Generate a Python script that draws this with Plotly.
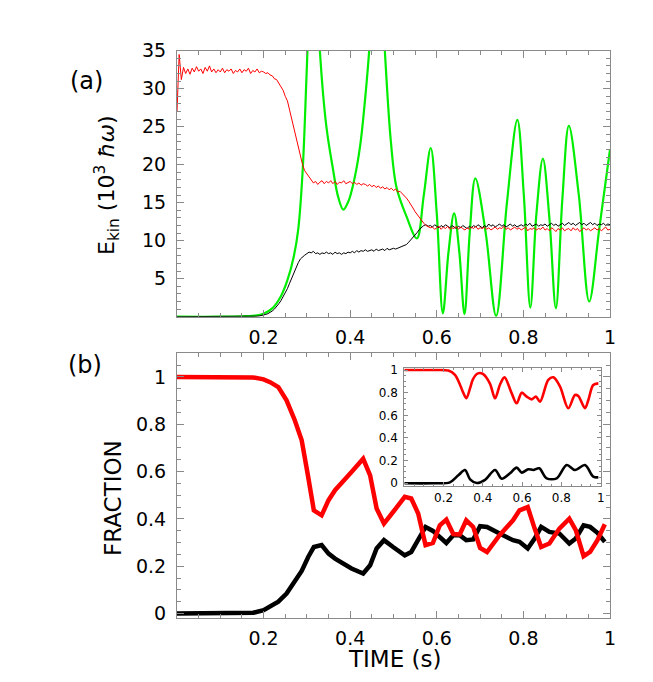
import plotly.graph_objects as go

W, H = 653, 682

# ---------------- Panel (a): kinetic energies (10^3 hbar omega) ----------------
T_KIN = [round(i * 0.005, 3) for i in range(201)]

EKIN_RED = [
    27.0, 34.5, 31.2, 32.8, 32.0, 32.6, 31.9, 32.7, 32.2, 32.9,
    32.3, 32.6, 32.0, 32.8, 32.3, 33.0, 32.2, 32.6, 32.1, 32.5,
    32.2, 32.7, 32.1, 32.5, 32.3, 32.6, 32.0, 32.4, 32.2, 32.6,
    32.1, 32.5, 32.3, 32.7, 32.0, 32.4, 32.2, 32.6, 32.1, 32.3,
    32.2, 32.0, 32.1, 31.8, 31.7, 31.3, 31.2, 30.7, 30.3, 29.8,
    29.0, 28.4, 27.2, 26.0, 24.8, 23.5, 22.2, 21.0, 20.0, 19.2,
    18.8, 18.3, 18.0, 17.6, 17.8, 17.4, 17.7, 17.9, 17.5, 17.8,
    17.6, 17.9, 17.5, 17.8, 17.4, 17.7, 17.6, 17.9, 17.5, 17.7,
    17.8, 17.5, 17.7, 17.4, 17.6, 17.3, 17.5, 17.4, 17.2, 17.4,
    17.1, 17.3, 17.0, 17.2, 16.9, 17.1, 16.8, 17.0, 16.7, 16.9,
    16.6, 16.8, 16.4, 16.5, 16.2, 16.0, 15.6, 15.2, 14.8, 14.3,
    13.8, 13.4, 13.0, 12.6, 12.3, 12.0, 11.9, 11.7, 11.8, 11.5,
    11.7, 11.9, 11.5, 11.8, 11.6, 11.9, 11.5, 11.7, 11.6, 11.9,
    11.5, 11.8, 11.6, 11.4, 11.7, 11.5, 11.8, 11.6, 11.9, 11.5,
    11.7, 11.6, 11.8, 11.5, 11.7, 11.4, 11.6, 11.8, 11.5, 11.7,
    11.6, 11.9, 11.5, 11.7, 11.4, 11.6, 11.8, 11.5, 11.7, 11.4,
    11.6, 11.8, 11.3, 11.6, 11.5, 11.7, 11.4, 11.6, 11.5, 11.8,
    11.4, 11.6, 11.3, 11.7, 11.5, 11.2, 11.6, 11.4, 11.7, 11.3,
    11.5, 11.6, 11.3, 11.7, 11.4, 11.6, 11.2, 11.5, 11.7, 11.4,
    11.6, 11.3, 11.5, 11.7, 11.4, 11.6, 11.3, 11.5, 11.8, 11.4,
    11.5,
]

EKIN_BLACK = [
    0.0, 0.0, 0.0, 0.0, 0.0, 0.0, 0.0, 0.0, 0.0, 0.0,
    0.0, 0.0, 0.0, 0.0, 0.0, 0.0, 0.0, 0.0, 0.0, 0.0,
    0.0, 0.0, 0.0, 0.0, 0.0, 0.0, 0.0, 0.0, 0.0, 0.0,
    0.0, 0.0, 0.0, 0.0, 0.02, 0.03, 0.05, 0.07, 0.1, 0.15,
    0.2, 0.3, 0.4, 0.55, 0.75, 1.0, 1.3, 1.7, 2.1, 2.6,
    3.1, 3.7, 4.4, 5.1, 5.8, 6.5, 7.1, 7.6, 7.9, 8.1,
    8.3, 8.5, 8.4, 8.6, 8.3, 8.4, 8.2, 8.4, 8.3, 8.5,
    8.3, 8.4, 8.2, 8.5, 8.3, 8.4, 8.2, 8.4, 8.3, 8.5,
    8.4, 8.6, 8.4, 8.7, 8.5, 8.7, 8.6, 8.8, 8.6, 8.7,
    8.8, 8.6, 8.9, 8.7, 8.8, 8.9, 8.7, 9.0, 8.8, 8.9,
    9.0, 8.9, 9.0, 9.1, 9.2, 9.3, 9.5, 9.8, 10.1, 10.4,
    10.7, 11.1, 11.5, 11.8, 12.0, 12.1, 11.9, 12.0, 11.8, 12.1,
    11.9, 11.7, 12.0, 11.8, 12.1, 11.9, 11.7, 12.0, 11.8, 11.6,
    11.9, 11.7, 12.0, 11.8, 11.6, 11.9, 11.7, 12.0, 11.8, 12.1,
    11.9, 11.7, 12.0, 11.8, 12.2, 11.9, 12.1, 11.8, 12.0, 12.2,
    11.9, 12.1, 11.8, 12.0, 12.2, 11.9, 12.1, 11.8, 12.0, 12.1,
    11.9, 12.2, 12.0, 12.3, 11.9, 12.1, 12.2, 11.9, 12.1, 12.0,
    12.2, 11.9, 12.1, 12.3, 12.0, 12.2, 11.9, 12.1, 12.3, 12.0,
    12.2, 12.4, 12.1, 12.3, 12.0, 12.2, 12.4, 12.1, 12.3, 12.0,
    12.2, 12.4, 12.1, 12.3, 12.0, 12.2, 12.1, 12.3, 12.0, 12.2,
    12.1,
]

T_GREEN = [0.0, 0.10, 0.15, 0.18, 0.20, 0.22, 0.24, 0.255, 0.27, 0.28,
           0.29, 0.30, 0.315, 0.33, 0.345, 0.36, 0.372, 0.384, 0.396, 0.41,
           0.423, 0.435, 0.445, 0.462, 0.48, 0.494, 0.507, 0.53, 0.554, 0.57,
           0.586, 0.60, 0.614, 0.627, 0.640, 0.652, 0.664, 0.676, 0.689, 0.713,
           0.737, 0.762, 0.786, 0.801, 0.816, 0.830, 0.845, 0.860, 0.875, 0.890,
           0.905, 0.928, 0.952, 0.975, 1.0]
EKIN_GREEN = [0.0, 0.0, 0.05, 0.15, 0.4, 1.1, 2.7, 4.8, 8.0, 11.5,
              19.0, 33.0, 55.0, 35.0, 25.0, 19.5, 15.8, 14.1, 15.2, 18.2,
              22.5, 29.0, 36.0, 55.0, 35.0, 23.0, 17.0, 13.2, 10.3, 16.0,
              22.2, 13.5, 0.45, 8.5, 13.6, 8.5, 0.35, 11.0, 18.2, 11.0,
              0.1, 15.0, 25.9, 16.0, 1.2, 13.5, 20.8, 13.0, 1.1, 15.5,
              25.1, 16.0, 2.0, 11.5, 22.0]

KIN_YTICKS = [5, 10, 15, 20, 25, 30, 35]
TIME_TICKS = [0.2, 0.4, 0.6, 0.8, 1.0]
TIME_LABELS = ["0.2", "0.4", "0.6", "0.8", "1"]

# ---------------- Panel (b): fractions ----------------
T_FRAC = [0.0, 0.05, 0.10, 0.15, 0.176, 0.2, 0.215, 0.234, 0.253, 0.272,
          0.288, 0.303, 0.316, 0.334, 0.35, 0.365, 0.384, 0.403, 0.430, 0.446,
          0.461, 0.478, 0.499, 0.526, 0.541, 0.557, 0.574, 0.591, 0.607, 0.622,
          0.638, 0.653, 0.668, 0.684, 0.700, 0.716, 0.745, 0.776, 0.791, 0.810,
          0.826, 0.841, 0.860, 0.883, 0.906, 0.921, 0.939, 0.954, 0.971, 0.988]
FRAC_RED = [1.0, 1.0, 1.0, 1.0, 0.998, 0.99, 0.978, 0.957, 0.901, 0.817,
            0.732, 0.577, 0.436, 0.415, 0.479, 0.521, 0.563, 0.598, 0.654, 0.584,
            0.444, 0.380, 0.429, 0.493, 0.486, 0.423, 0.289, 0.298, 0.373, 0.397,
            0.336, 0.334, 0.394, 0.366, 0.277, 0.260, 0.331, 0.394, 0.436, 0.450,
            0.359, 0.281, 0.296, 0.359, 0.401, 0.352, 0.242, 0.260, 0.310, 0.377]
FRAC_BLACK = [0.0, 0.0, 0.0, 0.0, 0.003, 0.014, 0.03, 0.05, 0.084, 0.135,
              0.18, 0.239, 0.281, 0.289, 0.253, 0.232, 0.212, 0.19, 0.169, 0.204,
              0.275, 0.310, 0.281, 0.246, 0.260, 0.310, 0.366, 0.349, 0.324, 0.298,
              0.331, 0.331, 0.310, 0.313, 0.369, 0.366, 0.338, 0.310, 0.303, 0.275,
              0.317, 0.366, 0.345, 0.338, 0.296, 0.317, 0.373, 0.366, 0.341, 0.303]

FRAC_TICKS = [0, 0.2, 0.4, 0.6, 0.8, 1.0]
FRAC_LABELS = ["0", "0.2", "0.4", "0.6", "0.8", "1"]

# ---------------- Inset ----------------
T_INS_RED = [0.0, 0.15, 0.224, 0.258, 0.284, 0.30, 0.316, 0.335, 0.35, 0.375,
             0.40, 0.436, 0.462, 0.487, 0.51, 0.547, 0.572, 0.598, 0.623, 0.649,
             0.670, 0.691, 0.733, 0.759, 0.793, 0.835, 0.869, 0.886, 0.920, 0.937,
             0.962, 0.988]
INS_RED = [1.0, 1.0, 0.995, 0.956, 0.868, 0.80, 0.75, 0.84, 0.92, 0.97,
           0.965, 0.88, 0.75, 0.87, 0.935, 0.794, 0.706, 0.80, 0.765, 0.741,
           0.765, 0.72, 0.912, 0.935, 0.853, 0.662, 0.779, 0.77, 0.662, 0.735,
           0.868, 0.882]
T_INS_BLACK = [0.0, 0.15, 0.232, 0.275, 0.309, 0.335, 0.369, 0.411, 0.462, 0.496,
               0.538, 0.572, 0.598, 0.631, 0.657, 0.687, 0.725, 0.776, 0.827, 0.869,
               0.920, 0.962, 0.988]
INS_BLACK = [0.0, 0.0, 0.008, 0.07, 0.117, 0.035, 0.002, 0.03, 0.117, 0.04,
             0.088, 0.138, 0.094, 0.124, 0.117, 0.132, 0.044, 0.044, 0.161, 0.117,
             0.161, 0.059, 0.053]

FONT = "DejaVu Sans"
AXIS_GRAY = "#8a8a8a"


def pxx(p):
    return p / W


def pxy(p):
    return 1 - p / H


fig = go.Figure()

fig.add_trace(go.Scatter(x=T_GREEN, y=EKIN_GREEN, mode="lines", line=dict(color="#00ee00", width=2.2, shape="spline", smoothing=1.0), xaxis="x", yaxis="y"))
fig.add_trace(go.Scatter(x=T_KIN, y=EKIN_BLACK, mode="lines", line=dict(color="black", width=1), xaxis="x", yaxis="y"))
fig.add_trace(go.Scatter(x=T_KIN, y=EKIN_RED, mode="lines", line=dict(color="#ff0000", width=1), xaxis="x", yaxis="y"))

fig.add_trace(go.Scatter(x=T_FRAC, y=FRAC_BLACK, mode="lines", line=dict(color="black", width=4.5), xaxis="x2", yaxis="y2"))
fig.add_trace(go.Scatter(x=T_FRAC, y=FRAC_RED, mode="lines", line=dict(color="#ff0000", width=4.5), xaxis="x2", yaxis="y2"))

fig.add_trace(go.Scatter(x=T_INS_BLACK, y=INS_BLACK, mode="lines", line=dict(color="black", width=2.6, shape="spline", smoothing=0.9), xaxis="x3", yaxis="y3"))
fig.add_trace(go.Scatter(x=T_INS_RED, y=INS_RED, mode="lines", line=dict(color="#ff0000", width=2.6, shape="spline", smoothing=0.9), xaxis="x3", yaxis="y3"))


def axis(domain, rng, tickvals, ticktext, minor_dtick, anchor, size=19, ticklen=7, mlen=4, standoff=6):
    return dict(
        domain=domain, range=rng, anchor=anchor, automargin=False,
        tickmode="array", tickvals=tickvals, ticktext=ticktext,
        ticks="inside", ticklen=ticklen, tickwidth=1, tickcolor=AXIS_GRAY,
        showline=True, linecolor=AXIS_GRAY, linewidth=1, mirror="allticks",
        showgrid=False, zeroline=False,
        tickfont=dict(family=FONT, size=size, color="black"),
        ticklabelstandoff=standoff,
        minor=dict(tickmode="linear", tick0=0, dtick=minor_dtick, ticks="inside",
                   ticklen=mlen, tickcolor=AXIS_GRAY, tickwidth=1, showgrid=False),
    )


XD = [pxx(177), pxx(610)]
fig.update_layout(
    template="none",
    width=W, height=H,
    margin=dict(l=0, r=0, t=0, b=0, autoexpand=False),
    paper_bgcolor="white", plot_bgcolor="white",
    showlegend=False,
    xaxis=axis(XD, [0, 1], TIME_TICKS, TIME_LABELS, 0.05, "y", standoff=3),
    yaxis=axis([pxy(316.7), pxy(50.7)], [0, 35], KIN_YTICKS, [str(v) for v in KIN_YTICKS], 1, "x", standoff=6),
    xaxis2=axis(XD, [0, 1], TIME_TICKS, TIME_LABELS, 0.05, "y2", standoff=4),
    yaxis2=axis([pxy(617.5), pxy(353.3)], [-0.017, 1.1], FRAC_TICKS, FRAC_LABELS, 0.05, "x2", standoff=6),
    xaxis3=axis([pxx(404.3), pxx(600.7)], [0, 1], TIME_TICKS, TIME_LABELS, 0.05, "y3", size=12, ticklen=4, mlen=2, standoff=1),
    yaxis3=axis([pxy(486), pxy(368.3)], [-0.024, 1.015], FRAC_TICKS, FRAC_LABELS, 0.05, "x3", size=12, ticklen=4, mlen=2, standoff=3),
)

ann = [
    dict(text="(a)", x=pxx(86), y=pxy(81), size=24, angle=0),
    dict(text="(b)", x=pxx(85), y=pxy(365), size=24, angle=0),
    dict(text="E<sub>kin</sub> (10<sup>3</sup> <i>ħω</i>)", x=pxx(107), y=pxy(185), size=22, angle=-90),
    dict(text="FRACTION", x=pxx(113), y=pxy(498), size=23, angle=-90),
    dict(text="TIME (s)", x=pxx(394), y=pxy(659), size=23, angle=0),
]
for a in ann:
    fig.add_annotation(text=a["text"], x=a["x"], y=a["y"], xref="paper", yref="paper",
                       showarrow=False, textangle=a["angle"], xanchor="center", yanchor="middle",
                       font=dict(family=FONT, size=a["size"], color="black"))

fig.write_html(
    "out.html",
    config={"displayModeBar": False},
    post_script="document.body.style.margin='0';document.body.style.overflow='hidden';",
)
